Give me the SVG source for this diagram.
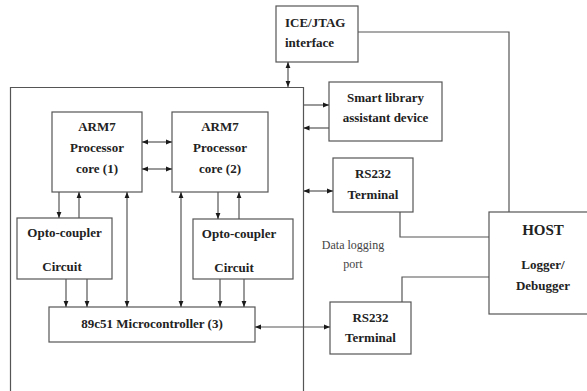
<svg xmlns="http://www.w3.org/2000/svg" width="587" height="391" viewBox="0 0 587 391" font-family="'Liberation Serif', 'Times New Roman', Times, serif">
<defs>
<marker id="ah" viewBox="0 0 10 10" refX="10" refY="5" markerWidth="6" markerHeight="6" orient="auto-start-reverse" markerUnits="userSpaceOnUse">
<path d="M0,1 L10,5 L0,9 z" fill="#1a1a1a"/>
</marker>
<style>
.box{fill:#fff;stroke:#555;stroke-width:1.2}
.ln{fill:none;stroke:#555;stroke-width:1.2}
.t{font-family:'Liberation Serif','Times New Roman',Times,serif;font-weight:bold;font-size:13px;fill:#222;text-anchor:middle}
.n{font-family:'Liberation Serif','Times New Roman',Times,serif;font-size:12px;fill:#444;text-anchor:middle}
</style>
</defs>
<rect width="587" height="391" fill="#fff"/>
<g id="outer"><path class="ln" d="M10.5,391 V87.5 H303.5 V391"/></g>
<g id="ice"><rect class="box" x="276" y="6" width="82" height="56"/>
<text class="t" x="285" y="27" style="text-anchor:start">ICE/JTAG</text>
<text class="t" x="285" y="47" style="text-anchor:start">interface</text></g>
<g id="smart"><rect class="box" x="329" y="82" width="113" height="59"/>
<text class="t" x="385.5" y="102">Smart library</text>
<text class="t" x="385.5" y="122">assistant device</text></g>
<g id="rs232a"><rect class="box" x="333" y="158" width="80" height="54"/>
<text class="t" x="373" y="178">RS232</text>
<text class="t" x="373" y="199">Terminal</text></g>
<g id="rs232b"><rect class="box" x="330" y="302" width="81" height="52"/>
<text class="t" x="370.5" y="322">RS232</text>
<text class="t" x="370.5" y="342">Terminal</text></g>
<g id="host"><rect class="box" x="489" y="212" width="100" height="102"/>
<text class="t" x="543" y="235" style="font-size:15px">HOST</text>
<text class="t" x="543" y="269">Logger/</text>
<text class="t" x="543" y="290">Debugger</text></g>
<g id="datalog"><text class="n" x="353" y="249">Data logging</text>
<text class="n" x="353" y="268">port</text></g>
<g id="arm1"><rect class="box" x="52" y="112" width="90" height="80"/>
<text class="t" x="97" y="131">ARM7</text>
<text class="t" x="97" y="152">Processor</text>
<text class="t" x="97" y="173">core (1)</text></g>
<g id="arm2"><rect class="box" x="172" y="112" width="96" height="80"/>
<text class="t" x="220" y="131">ARM7</text>
<text class="t" x="220" y="152">Processor</text>
<text class="t" x="220" y="173">core (2)</text></g>
<g id="opto1"><rect class="box" x="17" y="218" width="95" height="61"/>
<text class="t" x="64.5" y="237">Opto-coupler</text>
<text class="t" x="62" y="271">Circuit</text></g>
<g id="opto2"><rect class="box" x="193" y="219" width="100" height="60"/>
<text class="t" x="239" y="238">Opto-coupler</text>
<text class="t" x="234" y="272">Circuit</text></g>
<g id="micro"><rect class="box" x="49" y="307" width="206" height="35"/>
<text class="t" x="152" y="328">89c51 Microcontroller (3)</text></g>
<g id="connectors">
<line class="ln" x1="288" y1="62" x2="288" y2="87" marker-start="url(#ah)" marker-end="url(#ah)"/>
<line class="ln" x1="303.5" y1="105" x2="329" y2="105" marker-end="url(#ah)"/>
<line class="ln" x1="329" y1="128" x2="303.5" y2="128" marker-end="url(#ah)"/>
<line class="ln" x1="303.5" y1="191" x2="333" y2="191" marker-start="url(#ah)" marker-end="url(#ah)"/>
<polyline class="ln" points="358,32 509,32 509,212"/>
<polyline class="ln" points="400,212 400,237 489,237"/>
<polyline class="ln" points="402,302 402,277 489,277"/>
<line class="ln" x1="255" y1="327" x2="330" y2="327" marker-start="url(#ah)" marker-end="url(#ah)"/>
<line class="ln" x1="142" y1="142" x2="172" y2="142" marker-start="url(#ah)" marker-end="url(#ah)"/>
<line class="ln" x1="142" y1="169" x2="172" y2="169" marker-start="url(#ah)" marker-end="url(#ah)"/>
<line class="ln" x1="59" y1="192" x2="59" y2="218" marker-end="url(#ah)"/>
<line class="ln" x1="79" y1="218" x2="79" y2="192" marker-end="url(#ah)"/>
<line class="ln" x1="218" y1="192" x2="218" y2="219" marker-end="url(#ah)"/>
<line class="ln" x1="239" y1="219" x2="239" y2="192" marker-end="url(#ah)"/>
<line class="ln" x1="127" y1="192" x2="127" y2="307" marker-start="url(#ah)" marker-end="url(#ah)"/>
<line class="ln" x1="181" y1="192" x2="181" y2="307" marker-start="url(#ah)" marker-end="url(#ah)"/>
<line class="ln" x1="66" y1="279" x2="66" y2="307" marker-end="url(#ah)"/>
<line class="ln" x1="87" y1="279" x2="87" y2="307" marker-end="url(#ah)"/>
<line class="ln" x1="220" y1="279" x2="220" y2="307" marker-end="url(#ah)"/>
<line class="ln" x1="244" y1="279" x2="244" y2="307" marker-end="url(#ah)"/>
</g>
</svg>
